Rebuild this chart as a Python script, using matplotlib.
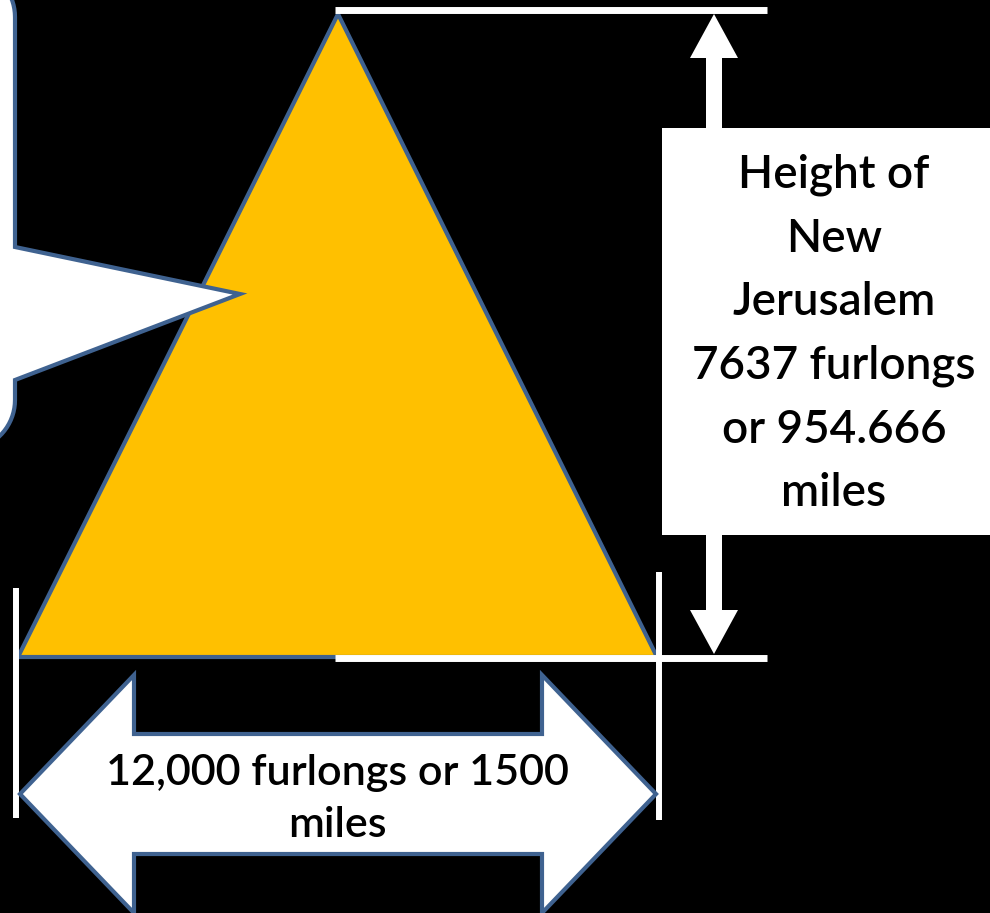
import numpy as np
import matplotlib.pyplot as plt
from matplotlib.patches import Polygon, Rectangle

# labels
height_label = "Height of\nNew\nJerusalem\n7637 furlongs\nor 954.666\nmiles"
width_label = "12,000 furlongs or 1500\nmiles"

# geometry (pixel coords, y down)
triangle = [(338, 14), (18, 657), (657, 657)]
up_arrow = [(706, 128), (706, 58), (690, 58), (714, 14), (738, 58), (722, 58), (722, 128)]
down_arrow = [(706, 535), (706, 610), (690, 610), (714, 654), (738, 610), (722, 610), (722, 535)]
double_arrow = [(20, 794), (134, 675), (134, 734), (542, 734), (542, 675), (656, 794),
                (542, 913), (542, 854), (134, 854), (134, 913)]

gold = "#FFC000"
blue = "#3F6290"

fig = plt.figure(figsize=(9.9, 9.13), dpi=100, facecolor="black")
ax = fig.add_axes([0, 0, 1, 1])
ax.set_xlim(0, 990)
ax.set_ylim(913, 0)
ax.set_facecolor("black")
ax.axis("off")

ax.add_patch(Polygon(triangle, closed=True, facecolor=gold, edgecolor=blue, lw=3, joinstyle="miter", zorder=1))

# speech callout on the left (mostly off-canvas)
t1 = np.linspace(0, np.pi / 2, 20)
top_arc = [(-35 + 50 * np.cos(t), 17 - 50 * np.sin(t)) for t in t1[::-1]]
bot_arc = [(-35 + 50 * np.cos(t), 400 + 50 * np.sin(t)) for t in t1]
callout = ([(-200, -33)] + top_arc + [(15, 247), (240, 294), (15, 380)] + bot_arc
           + [(-35, 450), (-200, 450)])
ax.add_patch(Polygon(callout, closed=True, facecolor="white", edgecolor=blue, lw=3, zorder=2))

# dimension lines
ax.plot([335, 767], [10.5, 10.5], color="white", lw=5, solid_capstyle="butt", zorder=3)
ax.plot([335, 767], [658, 658], color="white", lw=5, solid_capstyle="butt", zorder=3)
ax.plot([16, 16], [588, 818], color="white", lw=4.3, solid_capstyle="butt", zorder=3)
ax.plot([659, 659], [572, 820], color="white", lw=4.3, solid_capstyle="butt", zorder=3)

ax.add_patch(Polygon(up_arrow, closed=True, facecolor="white", edgecolor="none", zorder=3))
ax.add_patch(Polygon(down_arrow, closed=True, facecolor="white", edgecolor="none", zorder=3))
ax.add_patch(Rectangle((662, 128), 340, 407, facecolor="white", edgecolor="none", zorder=3))
ax.text(834, 334, height_label, ha="center", va="center", fontsize=33, family="Lato",
        weight="semibold", linespacing=1.63, color="black", zorder=4)

ax.add_patch(Polygon(double_arrow, closed=True, facecolor="white", edgecolor=blue, lw=3, zorder=3))
ax.text(337, 799, width_label, ha="center", va="center", fontsize=31, family="Lato",
        weight="semibold", linespacing=1.42, color="black", zorder=4)

fig.savefig("out.png", dpi=100, facecolor="black")
